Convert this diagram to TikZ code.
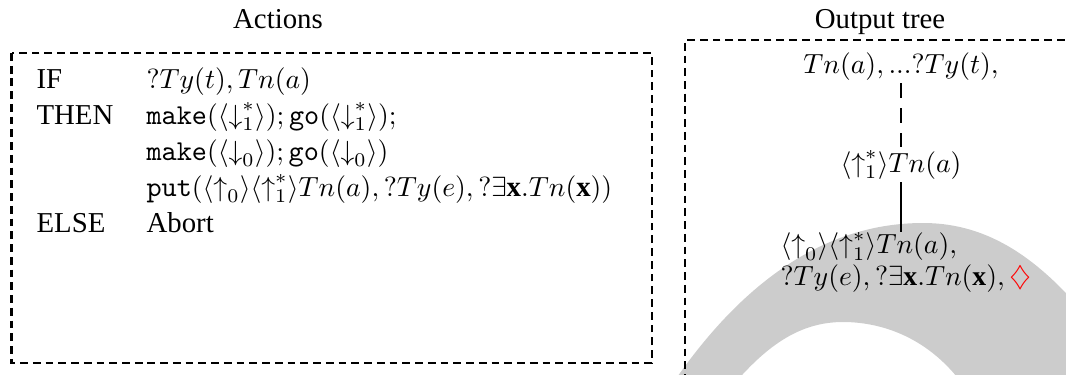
\documentclass[tikz,border=0pt]{standalone}
\usepackage{fontspec}
\setmainfont{Liberation Serif}
\begin{document}
\begin{tikzpicture}[x=0.361pt,y=-0.361pt,
  boxdash/.style={draw=black,line width=0.9pt,dash pattern=on 2.8pt off 1.8pt},
  treedash/.style={draw=black,line width=0.8pt,dash pattern=on 5.5pt off 3.5pt},
  treeline/.style={draw=black,line width=0.7pt},
  cell/.style={anchor=base west,inner sep=0pt,font=\fontsize{10.4}{12}\selectfont},
  title/.style={anchor=base,inner sep=0pt,font=\fontsize{10.4}{12}\selectfont},
  tnode/.style={inner sep=1pt,font=\fontsize{10}{12}\selectfont}]
\useasboundingbox (0,0) rectangle (1066,374);
\begin{scope}
  \clip (0,0) rectangle (1066,374);
  \fill[black!20] (665,395) .. controls (750,265) and (840,223) .. (923,223)
     .. controls (990,223) and (1040,260) .. (1090,320) -- (1090,395) -- (970,395)
     .. controls (935,340) and (885,322) .. (843,322)
     .. controls (800,322) and (765,345) .. (725,395) -- cycle;
  \draw[boxdash] (1090,40) -- (685,40) -- (685,400);
\end{scope}
\draw[boxdash] (11.5,53) rectangle (652,363);
% titles
\node[title] (actions) at (278,28) {Actions};
\node[title] (output) at (880,28) {Output tree};
% table
\node[cell] (if) at (36,88) {IF};
\node[cell] (then) at (36,124) {THEN};
\node[cell] (else) at (36,232) {ELSE};
\node[cell] (c1) at (146,88) {$?Ty(t), Tn(a)$};
\node[cell] (c2) at (146,124) {$\mathtt{make}(\langle{\downarrow}^*_1\rangle);\mathtt{go}(\langle{\downarrow}^*_1\rangle);$};
\node[cell] (c3) at (146,160) {$\mathtt{make}(\langle{\downarrow}_0\rangle);\mathtt{go}(\langle{\downarrow}_0\rangle)$};
\node[cell] (c4) at (146,196) {$\mathtt{put}(\langle{\uparrow}_0\rangle\langle{\uparrow}^*_1\rangle Tn(a), ?Ty(e), ?\exists\mathbf{x}.Tn(\mathbf{x}))$};
\node[cell] (c5) at (146,232) {Abort};
% tree
\node[tnode,anchor=base] (t1) at (901,73) {$Tn(a),{...}?Ty(t),$};
\node[tnode,anchor=base] (t2) at (901,172) {$\langle{\uparrow}^*_1\rangle Tn(a)$};
\node[tnode,anchor=north west,inner sep=0pt,align=left,font=\fontsize{10}{11.2}\selectfont] (t3) at (780,232)
  {$\langle{\uparrow}_0\rangle\langle{\uparrow}^*_1\rangle Tn(a),$\\
   $?Ty(e), ?\exists\mathbf{x}.Tn(\mathbf{x}),$\,\textcolor{red}{$\diamondsuit$}};
\draw[treedash] (t1) -- (t2);
\draw[treeline] (t2.south) -- (t2.south |- t3.north);
\end{tikzpicture}
\end{document}
